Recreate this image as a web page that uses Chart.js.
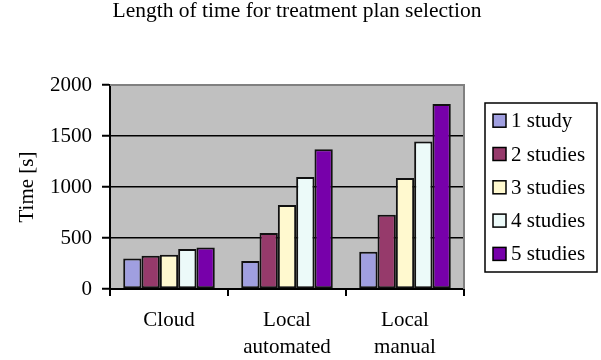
<!DOCTYPE html>
<html>
<head>
<meta charset="utf-8">
<script src="https://cdn.jsdelivr.net/npm/chart.js@4"></script>
<style>
  html, body { margin: 0; padding: 0; background: #fff; }
  #wrap { width: 601px; height: 360px; }
</style>
</head>
<body>
<div id="wrap"><canvas id="c" width="601" height="360"></canvas></div>
<script>
// Treatment plan selection time per workflow, by number of studies
const chartTitle = 'Length of time for treatment plan selection';
const categories = ['Cloud', ['Local', 'automated'], ['Local', 'manual']];
const seriesLabels = ['1 study', '2 studies', '3 studies', '4 studies', '5 studies'];
const study1 = [300, 274, 366];
const study2 = [325, 549, 728];
const study3 = [336, 823, 1088];
const study4 = [392, 1098, 1447];
const study5 = [408, 1369, 1814];
const yTicks = [0, 500, 1000, 1500, 2000];

const seriesValues = [study1, study2, study3, study4, study5];
const seriesColors = ['#A09FE0', '#963A6B', '#FFF9CF', '#ECFAF9', '#7700AA'];

const FONT = "'Liberation Serif', 'Times New Roman', serif";

// Gray plot background plus the gray frame on the top and right edges
const plotFrame = {
  id: 'plotFrame',
  beforeDraw(chart) {
    const { ctx, chartArea: a } = chart;
    ctx.save();
    ctx.fillStyle = '#C0C0C0';
    ctx.fillRect(a.left, a.top, a.right - a.left, a.bottom - a.top);
    ctx.restore();
  },
  beforeDatasetsDraw(chart) {
    const { ctx, chartArea: a } = chart;
    ctx.save();
    ctx.strokeStyle = '#808080';
    ctx.lineWidth = 2;
    ctx.beginPath();
    ctx.moveTo(a.left, a.top);
    ctx.lineTo(a.right, a.top);
    ctx.lineTo(a.right, a.bottom);
    ctx.stroke();
    ctx.restore();
  }
};

// Title centred over the whole canvas, boxed legend at the right
const titleAndLegend = {
  id: 'titleAndLegend',
  afterDraw(chart) {
    const { ctx } = chart;
    ctx.save();
    ctx.fillStyle = '#000';
    ctx.font = '21.5px ' + FONT;
    ctx.textAlign = 'center';
    ctx.textBaseline = 'alphabetic';
    ctx.fillText(chartTitle, 297, 17);

    const x0 = 485, y0 = 103, w = 112, h = 169;
    const rowGap = 33.3, firstRow = 120.7;
    ctx.strokeStyle = '#000';
    ctx.lineWidth = 1.5;
    ctx.fillStyle = '#fff';
    ctx.fillRect(x0, y0, w, h);
    ctx.strokeRect(x0, y0, w, h);
    ctx.font = '21px ' + FONT;
    ctx.textBaseline = 'middle';
    ctx.textAlign = 'left';
    chart.data.datasets.forEach((ds, i) => {
      const cy = firstRow + i * rowGap;
      ctx.fillStyle = ds.backgroundColor;
      ctx.fillRect(493, cy - 6.5, 13, 13);
      ctx.strokeRect(493, cy - 6.5, 13, 13);
      ctx.fillStyle = '#000';
      ctx.fillText(ds.label, 511, cy + 1);
    });
    ctx.restore();
  }
};

new Chart(document.getElementById('c'), {
  type: 'bar',
  data: {
    labels: categories,
    datasets: seriesLabels.map((label, i) => ({
      label,
      data: seriesValues[i],
      backgroundColor: seriesColors[i],
      borderColor: '#111',
      borderWidth: 2,
      borderSkipped: false,
      categoryPercentage: 0.776,
      barPercentage: 1.0
    }))
  },
  options: {
    responsive: false,
    animation: false,
    devicePixelRatio: 1,
    layout: { padding: { left: 0, right: 137, top: 85, bottom: 0 } },
    plugins: {
      legend: { display: false },
      tooltip: { enabled: false },
      title: { display: false }
    },
    scales: {
      x: {
        offset: true,
        grid: {
          display: true,
          drawOnChartArea: false,
          drawTicks: true,
          offset: true,
          tickLength: 7,
          color: '#000',
          lineWidth: 2
        },
        border: { display: true, color: '#000', width: 2 },
        ticks: {
          color: '#000',
          padding: 11,
          maxRotation: 0,
          autoSkip: false,
          font: { family: FONT, size: 21, lineHeight: 1.3 }
        },
        afterFit(scale) { scale.height = 71; }
      },
      y: {
        min: yTicks[0],
        max: yTicks[yTicks.length - 1],
        afterBuildTicks(scale) { scale.ticks = yTicks.map(v => ({ value: v })); },
        grid: {
          drawTicks: true,
          tickLength: 8,
          lineWidth: 1.5,
          color: ctx => (ctx.tick && ctx.tick.value === 2000) ? '#808080' : '#000',
          tickColor: '#000',
          tickWidth: 2
        },
        border: { display: true, color: '#000', width: 2 },
        ticks: {
          color: '#000',
          padding: 10,
          callback: v => String(v),
          font: { family: FONT, size: 21, lineHeight: 1.2 }
        },
        title: {
          display: true,
          text: 'Time [s]',
          color: '#000',
          font: { family: FONT, size: 21, lineHeight: 1.2 },
          padding: { top: 15, bottom: 0 }
        },
        afterFit(scale) { scale.width = 110; }
      }
    }
  },
  plugins: [plotFrame, titleAndLegend]
});
</script>
</body>
</html>
